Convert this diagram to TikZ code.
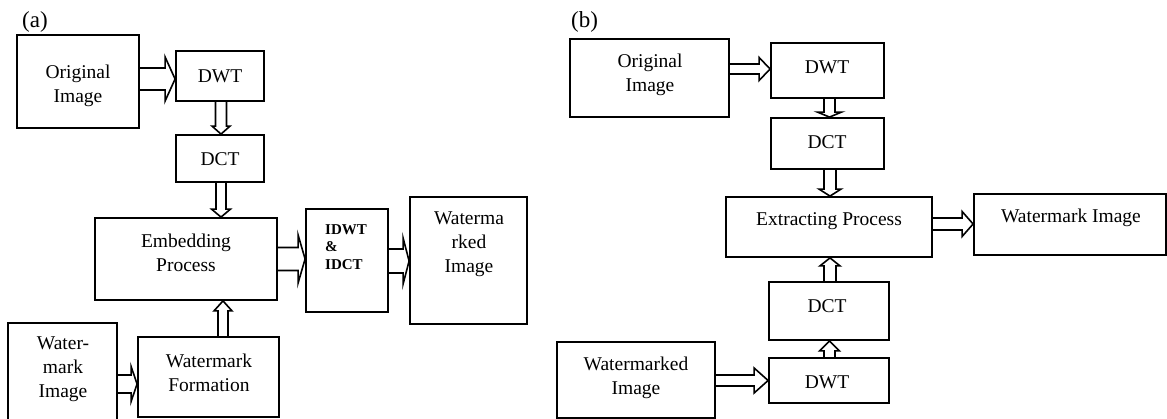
\documentclass[tikz,border=0pt]{standalone}
\usepackage{fontspec}
\setmainfont{Liberation Serif}
\usetikzlibrary{calc}
\tikzset{
  box/.style={draw, line width=1.8pt, rectangle, inner sep=0pt},
  txt/.style={inner sep=0pt, align=center, font=\fontsize{19.5}{24}\selectfont},
  labeltxt/.style={inner sep=0pt, font=\fontsize{23}{26}\selectfont},
  boldtxt/.style={inner sep=0pt, align=left, font=\fontsize{15}{17.5}\selectfont\bfseries},
  barrow/.style={draw, line width=1.6pt, line join=miter}
}
% horizontal block arrow: from #1.east to #2.west at height #3, shaft half #4, head half #5, head length #6
\newcommand\harr[6]{%
  \draw[barrow] let \p1=(#1.east), \p2=(#2.west) in
  (\x1,{-(#3-#4)*1pt}) -- ({\x2-#6pt},{-(#3-#4)*1pt}) -- ({\x2-#6pt},{-(#3-#5)*1pt})
  -- (\x2,{-#3*1pt}) -- ({\x2-#6pt},{-(#3+#5)*1pt}) -- ({\x2-#6pt},{-(#3+#4)*1pt}) -- (\x1,{-(#3+#4)*1pt});}
% downward block arrow: from #1.south to #2.north at x #3
\newcommand\darr[6]{%
  \draw[barrow] let \p1=(#1.south), \p2=(#2.north) in
  ({(#3-#4)*1pt},\y1) -- ({(#3-#4)*1pt},{\y2+#6pt}) -- ({(#3-#5)*1pt},{\y2+#6pt})
  -- ({#3*1pt},\y2) -- ({(#3+#5)*1pt},{\y2+#6pt}) -- ({(#3+#4)*1pt},{\y2+#6pt}) -- ({(#3+#4)*1pt},\y1);}
% upward block arrow: from #1.north to #2.south at x #3
\newcommand\uarr[6]{%
  \draw[barrow] let \p1=(#1.north), \p2=(#2.south) in
  ({(#3-#4)*1pt},\y1) -- ({(#3-#4)*1pt},{\y2-#6pt}) -- ({(#3-#5)*1pt},{\y2-#6pt})
  -- ({#3*1pt},\y2) -- ({(#3+#5)*1pt},{\y2-#6pt}) -- ({(#3+#4)*1pt},{\y2-#6pt}) -- ({(#3+#4)*1pt},\y1);}
\begin{document}
\begin{tikzpicture}[x=1pt, y=-1pt]
\useasboundingbox (0,0) rectangle (1167,419);
\begin{scope}
\clip (0,0) rectangle (1167,419);
% ---------- (a) ----------
\node[labeltxt] (la) at (35,22) {(a)};
\node[box, minimum width=122, minimum height=93] (origA) at (78,81.5) {};
\node[txt] (origAt) at (78,86) {Original\\Image};
\node[box, minimum width=88, minimum height=50] (dwtA) at (220,76) {};
\node[txt] (dwtAt) at (220,76) {DWT};
\node[box, minimum width=88, minimum height=47] (dctA) at (220,158.5) {};
\node[txt] (dctAt) at (220,159) {DCT};
\node[box, minimum width=182, minimum height=82] (embA) at (186,259) {};
\node[txt] (embAt) at (186,253) {Embedding\\Process};
\node[box, minimum width=82, minimum height=103] (idwt) at (347,260.5) {};
\node[boldtxt, anchor=west] (idwtt) at (325,247) {IDWT\\\&\\IDCT};
\node[box, minimum width=117, minimum height=127] (wmdA) at (468.5,260.5) {};
\node[txt] (wmdAt) at (469,244) {Waterma\\rked\\Image};
\node[box, minimum width=109, minimum height=107] (wmA) at (62.5,376.5) {};
\node[txt] (wmAt) at (63,369) {Water-\\mark\\Image};
\node[box, minimum width=141, minimum height=80] (formA) at (208.5,377) {};
\node[txt] (formAt) at (209,373) {Watermark\\Formation};
\harr{origA}{dwtA}{79}{11}{22}{10}
\darr{dwtA}{dctA}{221}{5.5}{9}{8}
\darr{dctA}{embA}{221}{5}{9.5}{8}
\harr{embA}{idwt}{259}{11.5}{24}{7}
\harr{idwt}{wmdA}{261}{12}{23}{6}
\harr{wmA}{formA}{384}{9}{17.5}{6}
\uarr{formA}{embA}{223}{5}{9}{10}
% ---------- (b) ----------
\node[labeltxt] (lb) at (584.5,22) {(b)};
\node[box, minimum width=159, minimum height=78] (origB) at (649.5,78) {};
\node[txt] (origBt) at (650,75) {Original\\Image};
\node[box, minimum width=113, minimum height=55] (dwtB1) at (827.5,70.5) {};
\node[txt] (dwtB1t) at (827,67) {DWT};
\node[box, minimum width=113, minimum height=51] (dctB1) at (827.5,143.5) {};
\node[txt] (dctB1t) at (827,142) {DCT};
\node[box, minimum width=206, minimum height=60] (extB) at (829,227) {};
\node[txt] (extBt) at (829,221) {Extracting Process};
\node[box, minimum width=192, minimum height=61] (wmB) at (1070,224.5) {};
\node[txt] (wmBt) at (1071,218) {Watermark Image};
\node[box, minimum width=120, minimum height=58] (dctB2) at (829,311) {};
\node[txt] (dctB2t) at (827,306) {DCT};
\node[box, minimum width=120, minimum height=45] (dwtB2) at (829,380.5) {};
\node[txt] (dwtB2t) at (827,382) {DWT};
\node[box, minimum width=158, minimum height=76] (wmdB) at (636,380) {};
\node[txt] (wmdBt) at (636,378) {Watermarked\\Image};
\harr{origB}{dwtB1}{69}{5}{11.5}{11}
\darr{dwtB1}{dctB1}{829.5}{5.5}{12}{5}
\darr{dctB1}{extB}{830}{6}{11}{7}
\harr{extB}{wmB}{224}{6}{12.5}{11}
\uarr{dctB2}{extB}{830}{6}{10}{8}
\uarr{dwtB2}{dctB2}{829.5}{5.5}{10}{10}
\harr{wmdB}{dwtB2}{380.5}{5.5}{12.5}{14}
\end{scope}
\end{tikzpicture}
\end{document}
